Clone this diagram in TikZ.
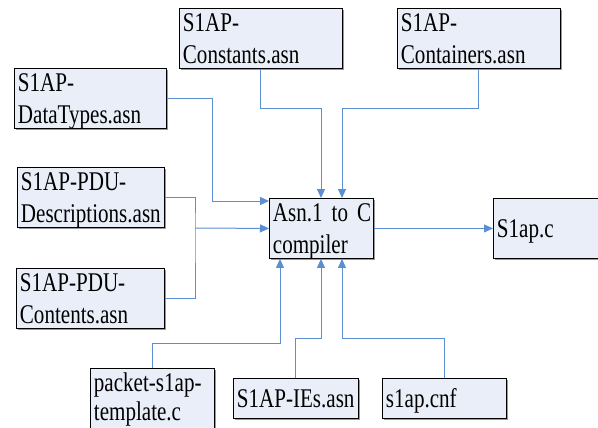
\documentclass[tikz,border=0pt]{standalone}
\usepackage{fontspec}
\setmainfont[FakeStretch=0.78]{Liberation Serif}
\usetikzlibrary{arrows.meta,shadows}
\definecolor{boxfill}{HTML}{E9EEF8}
\definecolor{linkblue}{HTML}{5B8FD2}
\hyphenpenalty=10000
\exhyphenpenalty=10000
\tikzset{
  box/.style={draw=black, line width=0.9pt, fill=boxfill, anchor=north west,
    inner sep=0pt, inner xsep=3.5pt, align=left,
    font=\fontsize{27}{32}\selectfont,
    drop shadow={shadow xshift=1.3pt, shadow yshift=-1.3pt, fill=black!40, opacity=1}},
  two/.style={text height=23pt, text depth=37pt},
  one/.style={text height=29pt, text depth=11pt},
  link/.style={draw=linkblue, line width=1pt},
  arr/.style={link, -{Triangle[length=9pt,width=8pt]}},
}
\begin{document}
\begin{tikzpicture}[x=1pt,y=-1pt]
\useasboundingbox (0,0) rectangle (598,428);
\node[box,two,text width=156pt] (const) at (179,8) {S1AP-\\Constants.asn};
\node[box,two,text width=156pt] (cont) at (397,8) {S1AP-\\Containers.asn};
\node[box,two,text width=145pt] (dtype) at (14,68) {S1AP-\\DataTypes.asn};
\node[box,two,text width=140pt] (desc) at (17,167) {S1AP-PDU-\\Descriptions.asn};
\node[box,two,text width=141pt] (pcont) at (16,268) {S1AP-PDU-\\Contents.asn};
\node[box,two,text width=97pt] (comp) at (269,198) {Asn.1~to~C\\compiler};
\node[box,text width=110pt,text height=39pt,text depth=21pt] (out) at (493,198) {S1ap.c};
\node[box,text width=117pt,text height=23pt,text depth=44pt,font=\fontsize{27}{29}\selectfont] (tmpl) at (90,368) {packet-s1ap-\\template.c};
\node[box,one,text width=118pt] (ies) at (233,378) {S1AP-IEs.asn};
\node[box,one,text width=117pt] (cnf) at (382,378) {s1ap.cnf};

\coordinate (j) at (195,228);
\draw[arr] (dtype.east) -- ++(46,0) |- ([yshift=-3pt]comp.north west);
\draw[link] (desc.east) -| (j) |- (pcont.east);
\draw[arr] (j) -- (comp.west);
\draw[arr] (const.south) -- ++(0,40) -| ([xshift=52pt]comp.north west);
\draw[arr] (cont.south) -- ++(0,40) -| ([xshift=73pt]comp.north west);
\draw[arr] (tmpl.north) -- ++(0,-25) -| ([xshift=11pt]comp.south west);
\draw[arr] (ies.north) -- ++(0,-40) -| ([xshift=52pt]comp.south west);
\draw[arr] (cnf.north) -- ++(0,-40) -| ([xshift=73pt]comp.south west);
\draw[arr] (comp.east) -- (out.west);
\end{tikzpicture}
\end{document}
